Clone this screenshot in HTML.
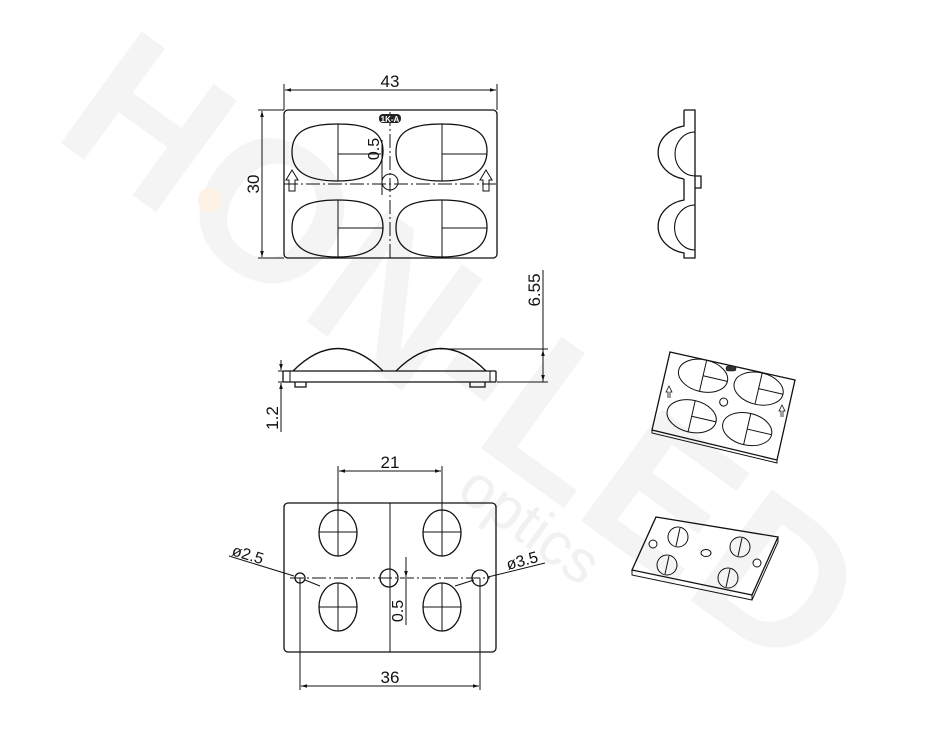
<!DOCTYPE html>
<html><head><meta charset="utf-8"><style>
html,body{margin:0;padding:0;background:#fff;}
svg{display:block;}
text{font-family:"Liberation Sans","DejaVu Sans",sans-serif;}
</style></head><body>
<svg width="950" height="750" viewBox="0 0 950 750" xmlns="http://www.w3.org/2000/svg">
<defs>
<marker id="a" viewBox="0 0 10 10" refX="10" refY="5" markerWidth="8" markerHeight="6" orient="auto-start-reverse"><path d="M0,2 L10,5 L0,8 Z" fill="#111"/></marker>
<path id="lens" d="M46 0 C80 0 91 10 91 27 C91 47 75 57 46 57 C14 57 0 47 0 28 C0 9 12 0 46 0 Z"/>
</defs>
<!-- watermark -->
<g fill="#f4f4f4" font-weight="bold">
<text x="0" y="0" font-size="200" transform="translate(50,135) rotate(36)" letter-spacing="2">HON-LED</text>
<text x="0" y="0" font-size="60" fill="#f1f1f1" font-weight="normal" transform="translate(455,495) rotate(36)">optics</text>
</g>
<circle cx="210" cy="200" r="12" fill="#fdf1e4"/>

<g fill="none" stroke="#111" stroke-width="1.3">
<!-- TOP VIEW -->
<rect x="284" y="110" width="213" height="148" rx="4"/>
<line x1="284" y1="84" x2="284" y2="110" stroke-width="1"/>
<line x1="497" y1="84" x2="497" y2="110" stroke-width="1"/>
<line x1="285" y1="90" x2="496" y2="90" stroke-width="1" marker-start="url(#a)" marker-end="url(#a)"/>
<line x1="258" y1="110" x2="284" y2="110" stroke-width="1"/>
<line x1="258" y1="258" x2="284" y2="258" stroke-width="1"/>
<line x1="262" y1="111" x2="262" y2="257" stroke-width="1" marker-start="url(#a)" marker-end="url(#a)"/>
<line x1="284" y1="184" x2="497" y2="184" stroke-width="1" stroke-dasharray="14,3,2,3"/>
<line x1="390" y1="112" x2="390" y2="258" stroke-width="1" stroke-dasharray="14,3,2,3"/>
<use href="#lens" transform="translate(292,124)"/>
<use href="#lens" transform="translate(396,124)"/>
<use href="#lens" transform="translate(292,200)"/>
<use href="#lens" transform="translate(396,200)"/>
<path d="M338 124 V181 M338 154 H381 M442 124 V181 M442 154 H487 M338 200 V257 M338 228 H383 M442 200 V257 M442 228 H487" stroke-width="1"/>
<circle cx="390" cy="182" r="8" stroke-width="1"/>
<line x1="382" y1="140" x2="382" y2="195" stroke-width="1"/>
<path d="M289 191 V180 H286 L292 170 L298 180 H295 V191 Z M483 191 V180 H480 L486 170 L492 180 H489 V191 Z" stroke-width="1"/>
<!-- side view right -->
<path d="M684 110 H695 V258 H684 V253 A32 27 0 0 1 684 200 V190 M684 179 A32 27 0 0 1 684 126 V110"/>
<path d="M695 132 A20 22 0 0 0 695 176 M695 205 A20 22 0 0 0 695 250" stroke-width="1.1"/>
<path d="M684 179 V190 M695 176 H701 V188 H695"/>
<!-- front view -->
<rect x="283" y="371" width="213" height="11" rx="1"/>
<path d="M290 371 V382 M490 371 V382" stroke-width="1"/>
<path d="M295 382 V387 H306 V382 M470 382 V387 H485 V382"/>
<path d="M293 371 Q338 326 383 371 M396 371 Q441 326 486 371"/>
<path d="M440 349 H548 M497 382 H548 M278 371 H290 M278 382 H290" stroke-width="1"/>
<line x1="543" y1="270" x2="543" y2="382" stroke-width="1"/>
<line x1="543" y1="350" x2="543" y2="381" stroke-width="1" marker-start="url(#a)" marker-end="url(#a)"/>
<line x1="281" y1="360" x2="281" y2="370" stroke-width="1" marker-end="url(#a)"/>
<line x1="281" y1="432" x2="281" y2="383" stroke-width="1" marker-end="url(#a)"/>
<!-- bottom view -->
<rect x="284" y="503" width="212" height="149" rx="4"/>
<line x1="290" y1="578" x2="490" y2="578" stroke-width="1" stroke-dasharray="14,3,2,3"/>
<line x1="390" y1="503" x2="390" y2="652" stroke-width="1"/>
<ellipse cx="338" cy="533" rx="19" ry="23"/>
<ellipse cx="442" cy="533" rx="19" ry="23"/>
<ellipse cx="338" cy="607" rx="19" ry="24"/>
<ellipse cx="442" cy="607" rx="19" ry="24"/>
<path d="M338 466 V556 M319 532 H357 M442 466 V556 M423 532 H461 M338 583 V631 M319 607 H357 M442 583 V631 M423 607 H461" stroke-width="1"/>
<circle cx="300" cy="578" r="5"/>
<circle cx="389" cy="578" r="9"/>
<circle cx="480" cy="578" r="8"/>
<line x1="339" y1="471" x2="441" y2="471" stroke-width="1" marker-start="url(#a)" marker-end="url(#a)"/>
<path d="M300 578 V690 M480 578 V690" stroke-width="1"/>
<line x1="301" y1="686" x2="479" y2="686" stroke-width="1" marker-start="url(#a)" marker-end="url(#a)"/>
<path d="M229 556 L294 576 M545 563 L488 577" stroke-width="1"/>
<path d="M305 580 L320 586 M474 580 L455 586" stroke-width="1"/>
<line x1="406" y1="557" x2="406" y2="577" stroke-width="1" marker-end="url(#a)"/>
<line x1="406" y1="625" x2="406" y2="579" stroke-width="1"/>
<!-- iso 1 -->
<path d="M670 352 L795 380 L777 460 L652 430 Z"/>
<path d="M652 430 L652 433 L777 463 L777 460" stroke-width="1"/>
<g stroke-width="1" transform="rotate(13 723 405)">
<ellipse cx="697" cy="381" rx="25" ry="16"/><ellipse cx="754" cy="381" rx="25" ry="16"/>
<ellipse cx="695" cy="423" rx="25" ry="16"/><ellipse cx="752" cy="423" rx="25" ry="16"/>
<path d="M697 365 V397 M697 381 H722 M754 365 V397 M754 381 H779 M695 407 V439 M695 423 H720 M752 407 V439 M752 423 H777"/>
<circle cx="723" cy="402" r="4"/>
</g>
<rect x="726" y="366" width="10" height="5" rx="2" fill="#333" stroke-width="0.5"/>
<path d="M668 398 V392 H666 L669 386 L672 392 H670 V398 M781 417 V411 H779 L782 405 L785 411 H783 V417" stroke-width="0.8"/>
<!-- iso 2 -->
<path d="M656 517 L778 537 L752 595 L632 570 Z"/>
<path d="M632 570 L632 575 L752 600 L752 595 M752 600 L778 542 L778 537" stroke-width="1"/>
<g stroke-width="1">
<circle cx="678" cy="537" r="10"/><circle cx="740" cy="547" r="10"/>
<circle cx="667" cy="565" r="10"/><circle cx="728" cy="578" r="10"/>
<path d="M680 528 L676 546 M742 538 L738 556 M669 556 L665 574 M730 569 L726 587"/>
<ellipse cx="706" cy="553" rx="5" ry="3.5"/>
<circle cx="653" cy="544" r="4"/><circle cx="757" cy="563" r="4"/>
</g>
</g>
<g fill="#111" font-size="17">
<text x="390" y="87" text-anchor="middle">43</text>
<text transform="translate(259,184) rotate(-90)" text-anchor="middle">30</text>
<text transform="translate(379,149) rotate(-90)" text-anchor="middle" font-size="16">0.5</text>
<text transform="translate(540,290) rotate(-90)" text-anchor="middle">6.55</text>
<text transform="translate(278,418) rotate(-90)" text-anchor="middle">1.2</text>
<text x="390" y="468" text-anchor="middle">21</text>
<text x="390" y="683" text-anchor="middle">36</text>
<text transform="translate(403,611) rotate(-90)" text-anchor="middle" font-size="16">0.5</text>
<text transform="translate(231,555) rotate(17)" font-size="16">ø2.5</text>
<text transform="translate(508,570) rotate(-15)" font-size="16">ø3.5</text>
</g>
<rect x="379" y="114" width="22" height="9" rx="4" fill="#222"/>
<text x="390" y="122" text-anchor="middle" font-size="8" fill="#fff" font-weight="bold">1K-A</text>
</svg>
</body></html>
